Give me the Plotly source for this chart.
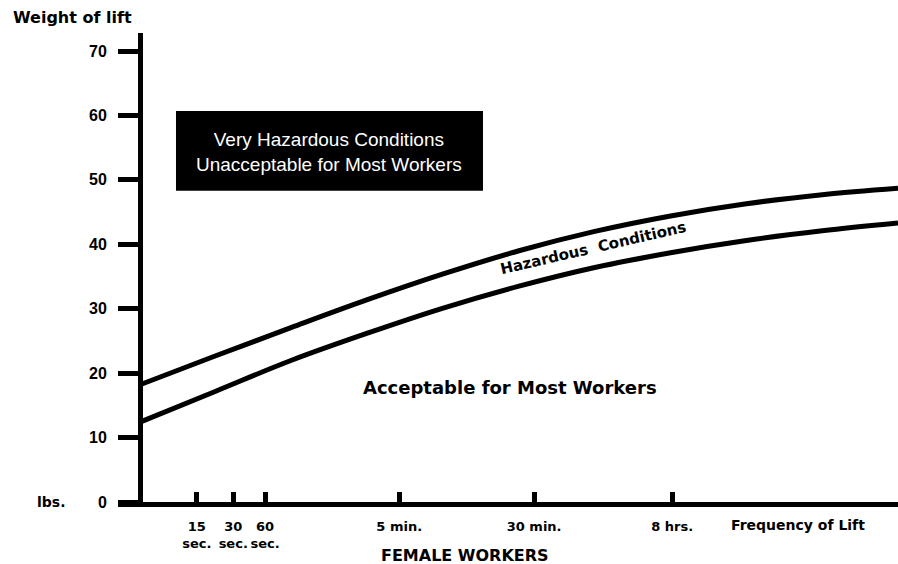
import plotly.graph_objects as go

# ---- data ----
freq_pos = [0, 10, 20, 30, 40, 50, 60, 70, 80, 90, 100]
upper_limit = [18.2, 22.7, 27.1, 31.4, 35.4, 39.0, 42.0, 44.4, 46.3, 47.7, 48.7]
lower_limit = [12.4, 17.2, 22.0, 26.2, 30.1, 33.5, 36.4, 38.7, 40.6, 42.1, 43.3]
tick_pos = [7.5, 12.3, 16.5, 34.2, 52.0, 70.2]
tick_labels = ["15<br>sec.", "30<br>sec.", "60<br>sec.", "5 min.", "30 min.", "8 hrs."]
y_ticks = [0, 10, 20, 30, 40, 50, 60, 70]

X_MIN, X_MAX = -2.9, 100
Y_MIN, Y_MAX = 0, 72.8

BOLD = "DejaVu Sans"

fig = go.Figure()
for vals in (upper_limit, lower_limit):
    fig.add_trace(go.Scatter(x=freq_pos, y=vals, mode="lines",
                             line=dict(color="black", width=5, shape="spline", smoothing=1.0),
                             hoverinfo="skip", showlegend=False))

# black box
fig.add_shape(type="rect", x0=4.75, x1=45.25, y0=48.3, y1=60.7,
              fillcolor="black", line=dict(color="black", width=0), layer="above")
fig.add_annotation(x=25.0, y=54.4, text="Very Hazardous Conditions<br>Unacceptable for Most Workers",
                   showarrow=False, font=dict(family="Liberation Sans", size=19, color="white"),
                   align="center", xanchor="center", yanchor="middle")

fig.add_annotation(x=59.8, y=39.5, text="Hazardous  Conditions", textangle=-13,
                   showarrow=False, xanchor="center", yanchor="middle",
                   font=dict(family=BOLD, size=15, color="black", weight="bold"))
fig.add_annotation(x=48.8, y=17.7, text="Acceptable for Most Workers",
                   showarrow=False, xanchor="center", yanchor="middle",
                   font=dict(family=BOLD, size=18, color="black", weight="bold"))

W_PLOT = 780.0
H_PLOT = 469.0
def px(xp):
    return (xp - 118) / W_PLOT
def py(yp):
    return (502 - yp) / H_PLOT

def outer(x, y, text, size):
    fig.add_annotation(xref="paper", yref="paper", x=px(x), y=py(y), text=text,
                       showarrow=False, xanchor="center", yanchor="middle",
                       font=dict(family=BOLD, size=size, color="black", weight="bold"))

outer(72, 17, "Weight of lift", 16)
outer(51, 502, "lbs.", 14)
outer(798, 525, "Frequency of Lift", 14)
outer(465, 555, "FEMALE WORKERS", 16)

fig.update_layout(
    width=898, height=564,
    margin=dict(l=118, r=0, t=33, b=564 - 33 - 469),
    paper_bgcolor="white", plot_bgcolor="white",
    xaxis=dict(range=[X_MIN, X_MAX], showgrid=False, zeroline=False,
               showline=True, linecolor="black", linewidth=5,
               ticks="inside", ticklen=10, tickwidth=5, tickcolor="black",
               tickvals=tick_pos, ticktext=tick_labels, ticklabelstandoff=8,
               tickfont=dict(family=BOLD, size=13, color="black", weight="bold")),
    yaxis=dict(range=[Y_MIN, Y_MAX], showgrid=False, zeroline=False,
               anchor="free", position=(0 - X_MIN) / (X_MAX - X_MIN),
               showline=True, linecolor="black", linewidth=5,
               ticks="outside", ticklen=20, tickwidth=5, tickcolor="black",
               tickvals=y_ticks, ticklabelstandoff=8,
               tickfont=dict(family="Liberation Sans", size=16, color="black", weight="bold")),
)

fig.write_html("out.html", config={"displayModeBar": False},
               post_script="document.body.style.margin='0px';document.body.style.overflow='hidden';")
